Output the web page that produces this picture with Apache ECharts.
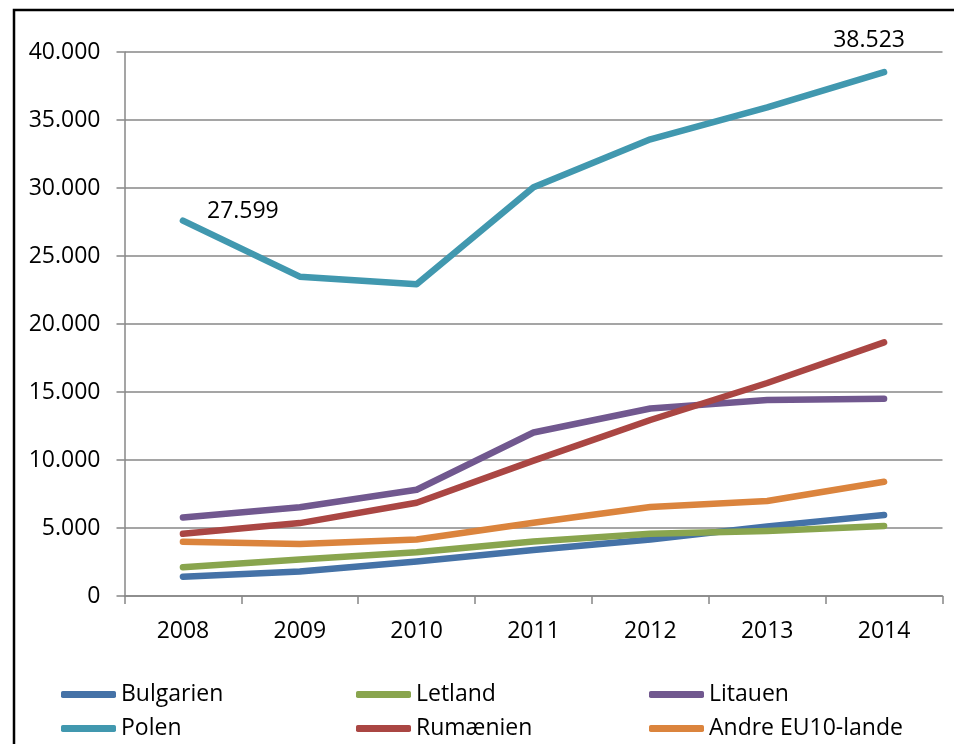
<!DOCTYPE html>
<html>
<head>
<meta charset="utf-8">
<script src="https://cdn.jsdelivr.net/npm/echarts@6/dist/echarts.min.js"></script>
<style>
html,body{margin:0;padding:0;background:#fff;}
#chart{width:954px;height:744px;}
</style>
</head>
<body>
<div id="chart"></div>
<script>
var years = ['2008','2009','2010','2011','2012','2013','2014'];
var bulgarien = [1420, 1800, 2530, 3390, 4150, 5120, 5950];
var letland   = [2110, 2680, 3220, 4000, 4570, 4780, 5150];
var litauen   = [5770, 6530, 7810, 12020, 13790, 14410, 14500];
var polen     = [27599, 23480, 22920, 30050, 33580, 35930, 38523];
var rumaenien = [4570, 5360, 6860, 9950, 12940, 15660, 18650];
var andre     = [3980, 3830, 4150, 5380, 6540, 6980, 8400];
var seriesNames = ['Bulgarien','Letland','Litauen','Polen','Rumænien','Andre EU10-lande'];
var colors = ['#4572A7','#89A54E','#71588F','#4198AF','#AA4643','#DB843D'];

var FONT = 'Open Sans';
function fmt(v){ return String(v).replace(/\B(?=(\d{3})+(?!\d))/g, '.'); }

var chart = echarts.init(document.getElementById('chart'));

function mkSeries(name, data, color){
  return {
    name: name, type: 'line', data: data,
    symbol: 'circle', symbolSize: 0.1, showSymbol: true,
    itemStyle: {color: color},
    lineStyle: {color: color, width: 6.5, cap: 'round', join: 'round'},
    label: {show: false},
    emphasis: {disabled: true},
    animation: false
  };
}

var allData = [bulgarien, letland, litauen, polen, rumaenien, andre];
var series = allData.map(function(d, i){ return mkSeries(seriesNames[i], d, colors[i]); });

// Polen labels on first and last points
var polenData = polen.map(function(v){ return {value: v}; });
var labelStyle = {show: true, color: '#000', fontSize: 23, fontFamily: FONT, formatter: function(p){ return fmt(p.value); }};
polenData[0].label = Object.assign({}, labelStyle, {position: 'right', distance: 24, offset: [0, -9]});
polenData[polenData.length - 1].label = Object.assign({}, labelStyle, {position: 'inside', offset: [-15, -32]});
series[3].data = polenData;

var legendPos = [
  [61, 683], [356, 683], [649, 683],
  [61, 717], [356, 717], [649, 717]
];
var legendOrder = ['Bulgarien','Letland','Litauen','Polen','Rumænien','Andre EU10-lande'];
var legends = legendOrder.map(function(n, i){
  return {
    data: [n], left: legendPos[i][0], top: legendPos[i][1], padding: 0,
    icon: 'roundRect', itemWidth: 55, itemHeight: 7,
    selectedMode: false,
    itemStyle: {opacity: 1},
    textStyle: {color: '#000', fontSize: 23, fontFamily: FONT}
  };
});

var gridColor = '#878787';
chart.setOption({
  backgroundColor: '#fff',
  animation: false,
  grid: {left: 124.5, right: 11.5, top: 52, bottom: 148, containLabel: false},
  legend: legends,
  xAxis: {
    type: 'category', data: years, boundaryGap: true,
    axisLine: {show: true, lineStyle: {color: gridColor, width: 1.5}},
    axisTick: {show: true, length: 8, inside: false, alignWithLabel: false, lineStyle: {color: gridColor, width: 1.5}},
    axisLabel: {color: '#000', fontSize: 23, fontFamily: FONT, margin: 24},
    splitLine: {show: false}
  },
  yAxis: {
    type: 'value', min: 0, max: 40000, interval: 5000,
    axisLine: {show: true, lineStyle: {color: gridColor, width: 1.5}},
    axisTick: {show: true, length: 8, lineStyle: {color: gridColor, width: 1.5}},
    axisLabel: {color: '#000', fontSize: 23, fontFamily: FONT, margin: 24, formatter: function(v){ return fmt(v); }},
    splitLine: {show: true, lineStyle: {color: gridColor, width: 1.5}}
  },
  graphic: [{
    type: 'rect', silent: true, z: 100,
    shape: {x: 14, y: 10, width: 2000, height: 2000},
    style: {fill: 'none', stroke: '#000', lineWidth: 2.5}
  }],
  series: series
});
</script>
</body>
</html>
